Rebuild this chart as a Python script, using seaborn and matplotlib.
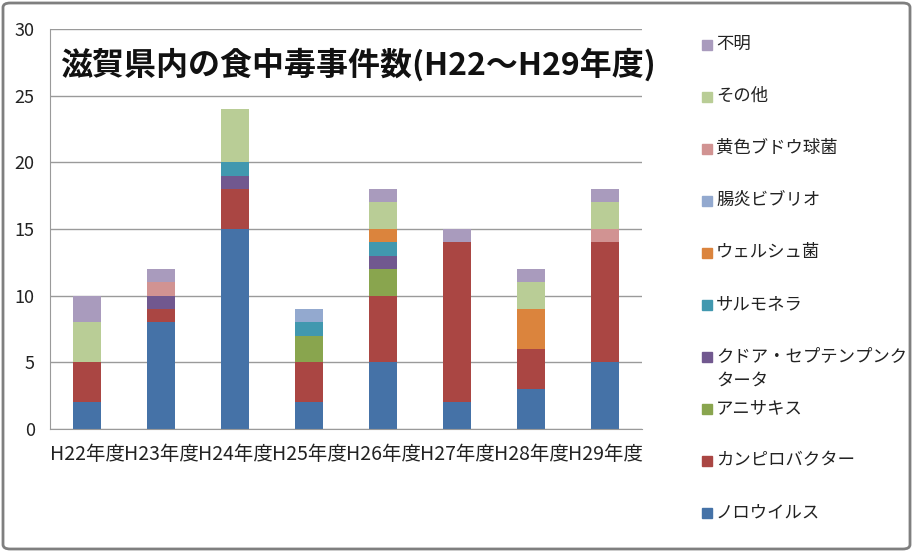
import numpy as np
import pandas as pd
import seaborn as sns
import matplotlib.pyplot as plt
from matplotlib.patches import FancyBboxPatch, Rectangle

# data (counts per fiscal year, stacked bottom -> top)
years = ['H22年度', 'H23年度', 'H24年度', 'H25年度', 'H26年度', 'H27年度', 'H28年度', 'H29年度']
series = ['ノロウイルス', 'カンピロバクター', 'アニサキス', 'クドア・セプテンプンクタータ',
          'サルモネラ', 'ウェルシュ菌', '腸炎ビブリオ', '黄色ブドウ球菌', 'その他', '不明']
norovirus = [2, 8, 15, 2, 5, 2, 3, 5]
campylo = [3, 1, 3, 3, 5, 12, 3, 9]
anisakis = [0, 0, 0, 2, 2, 0, 0, 0]
kudoa = [0, 1, 1, 0, 1, 0, 0, 0]
salmonella = [0, 0, 1, 1, 1, 0, 0, 0]
welchii = [0, 0, 0, 0, 1, 0, 3, 0]
vibrio = [0, 0, 0, 1, 0, 0, 0, 0]
staph = [0, 1, 0, 0, 0, 0, 0, 1]
other = [3, 0, 4, 0, 2, 0, 2, 2]
unknown = [2, 1, 0, 0, 1, 1, 1, 1]
values = [norovirus, campylo, anisakis, kudoa, salmonella, welchii, vibrio, staph, other, unknown]
colors = ['#4572A7', '#AA4643', '#89A54E', '#71588F', '#4198AF',
          '#DB843D', '#93A9CF', '#D19392', '#B9CD96', '#A99BBD']

sns.set_style('white')
plt.rcParams['font.family'] = ['Noto Sans CJK JP', 'DejaVu Sans']

fig = plt.figure(figsize=(9.13, 5.52), dpi=100)
ax = fig.add_axes([50 / 913, 123 / 552, 592 / 913, 400 / 552])

bottom = np.zeros(len(years))
for name, vals, c in zip(series, values, colors):
    df = pd.DataFrame({'year': years, 'n': vals})
    sns.barplot(data=df, x='year', y='n', color=c, width=0.39, errorbar=None,
                bottom=bottom, linewidth=0, saturation=1, ax=ax)
    bottom = bottom + np.array(vals)

ax.set_ylim(0, 30)
ax.set_xlim(-0.5, 7.5)
ax.set_yticks(range(0, 31, 5))
ax.yaxis.grid(True, color='#9A9A9A', linewidth=1)
ax.set_axisbelow(True)
ax.set_xlabel('')
ax.set_ylabel('')
for s in ['top', 'right']:
    ax.spines[s].set_visible(False)
for s in ['left', 'bottom']:
    ax.spines[s].set_color('#9A9A9A')
ax.set_xticks(np.arange(-0.5, 8, 1), minor=True)
ax.tick_params(axis='x', which='major', length=0, labelsize=14, pad=11, labelcolor='#222222')
ax.tick_params(axis='x', which='minor', length=5, color='#9A9A9A', direction='out')
ax.tick_params(axis='y', length=5, color='#9A9A9A', labelsize=13, pad=6, labelcolor='#222222')

# title inside plot area
fig.text(60 / 913, 1 - 65 / 552, '滋賀県内の食中毒事件数(H22～H29年度)', fontsize=23,
         fontweight='bold', va='center', ha='left', color='#111111')

# legend, drawn top -> bottom in reverse series order
for i, (name, c) in enumerate(zip(series[::-1], colors[::-1])):
    y = 1 - (45 + 52 * i) / 552
    fig.patches.append(Rectangle((702 / 913, y - 5 / 552), 10 / 913, 10 / 552,
                                 transform=fig.transFigure, color=c))
    label = name
    if name.startswith('クドア'):
        label = 'クドア・セプテンプンク\nタータ'
    fig.text(716 / 913, y + 10 / 552, label, fontsize=12.5, va='top', ha='left',
             color='#222222', linespacing=1.5)

# chart border
fig.patches.append(FancyBboxPatch((3 / 913, 3 / 552), 907 / 913, 546 / 552,
                                  boxstyle='round,pad=0,rounding_size=0.008',
                                  transform=fig.transFigure, fill=False,
                                  edgecolor='#7F7F7F', linewidth=2))

fig.savefig('out.png', dpi=100)
